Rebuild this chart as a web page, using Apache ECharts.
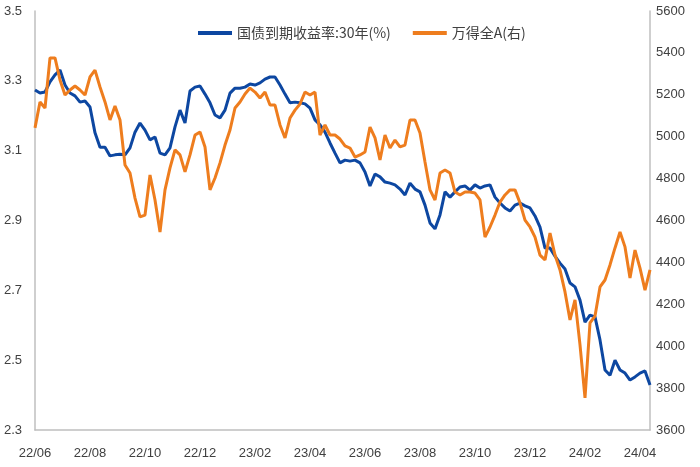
<!DOCTYPE html>
<html>
<head>
<meta charset="utf-8">
<script src="https://cdn.jsdelivr.net/npm/echarts@6/dist/echarts.min.js"></script>
<style>
html,body{margin:0;padding:0;background:#fff;}
#chart{width:700px;height:467px;}
</style>
</head>
<body>
<div id="chart"></div>
<script>
// Tick labels shown on the category axis (one every 11 points)
const tickLabels = ['22/06','22/08','22/10','22/12','23/02','23/04','23/06','23/08','23/10','23/12','24/02','24/04'];

// 30Y government bond yield (%), left axis
const yield30 = [
  3.274, 3.265, 3.268, 3.297, 3.317, 3.331, 3.288, 3.265, 3.257, 3.239,
  3.242, 3.225, 3.151, 3.110, 3.110, 3.085, 3.088, 3.090, 3.088, 3.108,
  3.153, 3.179, 3.159, 3.131, 3.139, 3.093, 3.088, 3.108, 3.168, 3.216,
  3.179, 3.271, 3.282, 3.285, 3.262, 3.237, 3.202, 3.194, 3.216, 3.265,
  3.279, 3.279, 3.282, 3.291, 3.288, 3.294, 3.305, 3.311, 3.311, 3.288,
  3.262, 3.237, 3.239, 3.237, 3.234, 3.222, 3.188, 3.174, 3.153, 3.122,
  3.093, 3.065, 3.073, 3.070, 3.073, 3.065, 3.039, 2.999, 3.033, 3.025,
  3.010, 3.007, 3.002, 2.990, 2.973, 3.007, 2.990, 2.982, 2.944, 2.893,
  2.876, 2.916, 2.982, 2.967, 2.982, 2.996, 2.999, 2.987, 3.002, 2.993,
  2.999, 3.002, 2.967, 2.950, 2.936, 2.927, 2.944, 2.950, 2.942, 2.936,
  2.913, 2.881, 2.821, 2.821, 2.798, 2.778, 2.761, 2.721, 2.710, 2.672,
  2.609, 2.629, 2.624, 2.558, 2.472, 2.457, 2.500, 2.472, 2.463, 2.443,
  2.452, 2.463, 2.469, 2.429
];

// Wind All A index, right axis
const windAllA = [
  5042, 5166, 5137, 5376, 5376, 5271, 5199, 5223, 5242, 5223,
  5199, 5285, 5318, 5237, 5166, 5080, 5147, 5080, 4865, 4827,
  4707, 4617, 4626, 4817, 4698, 4545, 4746, 4851, 4937, 4913,
  4832, 4913, 5008, 5022, 4951, 4746, 4803, 4875, 4960, 5032,
  5137, 5166, 5204, 5232, 5213, 5185, 5213, 5151, 5151, 5056,
  4994, 5089, 5127, 5156, 5213, 5199, 5213, 5008, 5056, 5008,
  5008, 4989, 4956, 4946, 4903, 4913, 4927, 5046, 4994, 4889,
  5008, 4946, 4984, 4951, 4960, 5080, 5080, 5018, 4879, 4746,
  4698, 4827, 4841, 4827, 4736, 4722, 4736, 4736, 4731, 4698,
  4521, 4569, 4626, 4688, 4722, 4746, 4746, 4684, 4602, 4569,
  4521, 4435, 4412, 4540, 4435, 4364, 4259, 4125, 4221, 4006,
  3753, 4111, 4144, 4283, 4316, 4388, 4469, 4545, 4474, 4326,
  4459, 4373, 4268, 4364
];

const seriesNames = ['国债到期收益率:30年(%)', '万得全A(右)'];
const STEP = 11;
const categories = yield30.map((_, i) => String(i));

const chart = echarts.init(document.getElementById('chart'), null, {renderer: 'canvas'});
const axisFont = {fontFamily: 'Liberation Sans Narrow, Arial, sans-serif', fontSize: 13, color: '#404040'};
const grayLine = {show: true, lineStyle: {color: '#BFBFBF', width: 1.5}};

chart.setOption({
  animation: false,
  backgroundColor: '#fff',
  grid: {left: 35, right: 50, top: 11, bottom: 37, containLabel: false},
  legend: {
    top: 21,
    left: 193,
    itemWidth: 34,
    itemHeight: 4,
    itemGap: 22,
    icon: 'rect',
    textStyle: {fontFamily: 'Noto Sans CJK SC, sans-serif', fontSize: 14, color: '#404040'},
    data: seriesNames
  },
  xAxis: {
    type: 'category',
    data: categories,
    boundaryGap: false,
    axisLine: grayLine,
    axisTick: {show: false},
    axisLabel: Object.assign({
      interval: STEP - 1,
      margin: 17,
      formatter: (v, idx) => tickLabels[Math.round(idx / STEP)] || ''
    }, axisFont),
    splitLine: {show: false}
  },
  yAxis: [
    {
      type: 'value', min: 2.3, max: 3.5, interval: 0.2, position: 'left',
      axisLine: grayLine, axisTick: {show: false}, splitLine: {show: false},
      axisLabel: Object.assign({margin: 13, formatter: v => v.toFixed(1)}, axisFont)
    },
    {
      type: 'value', min: 3600, max: 5600, interval: 200, position: 'right',
      axisLine: grayLine, axisTick: {show: false}, splitLine: {show: false},
      axisLabel: Object.assign({margin: 6, formatter: v => String(v)}, axisFont)
    }
  ],
  series: [
    {
      name: seriesNames[0], type: 'line', yAxisIndex: 0, data: yield30,
      showSymbol: false, symbol: 'none', smooth: false,
      lineStyle: {color: '#0D47A1', width: 3}, itemStyle: {color: '#0D47A1'}
    },
    {
      name: seriesNames[1], type: 'line', yAxisIndex: 1, data: windAllA,
      showSymbol: false, symbol: 'none', smooth: false,
      lineStyle: {color: '#EE7D1E', width: 3}, itemStyle: {color: '#EE7D1E'}
    }
  ]
});
</script>
</body>
</html>
